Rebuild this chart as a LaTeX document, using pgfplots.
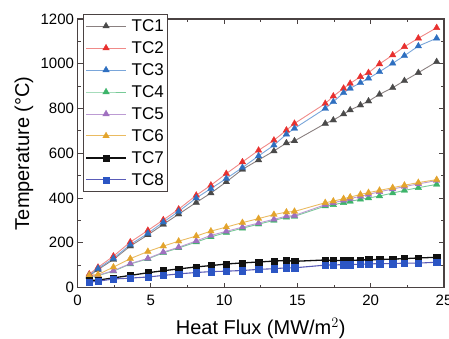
\documentclass[border=0pt]{standalone}
\usepackage{pgfplots}
\pgfplotsset{compat=1.18}
\usepackage{pgfplotstable}
\usepackage{fontspec}
\setmainfont{Liberation Sans}
\definecolor{cA}{HTML}{4A4A4A}
\definecolor{cAl}{HTML}{8A8080}
\definecolor{cB}{HTML}{E8302E}
\definecolor{cBl}{HTML}{F08A88}
\definecolor{cC}{HTML}{2E6FC0}
\definecolor{cCl}{HTML}{7AA6DA}
\definecolor{cD}{HTML}{3DB46A}
\definecolor{cE}{HTML}{A070C0}
\definecolor{cF}{HTML}{E3A42C}
\definecolor{cG}{HTML}{101010}
\definecolor{cH}{HTML}{2B55C4}
\definecolor{cHl}{HTML}{5A5CB8}
\definecolor{axc}{HTML}{4A4242}
\pgfplotstableread{
x tc1 tc2 tc3 tc4 tc5 tc6 tc7 tc8
0.8 52 60 55 48 50 55 31 24
1.4 80 90 85 53 55 58 33 28
2.45 125 140 130 73 75 91 43 38
3.6 185 203 192 105 107 129 54 42
4.8 235 255 242 128 130 161 66 47
5.85 282 302 292 155 158 185 75 54
6.9 328 350 340 177 180 207 83 61
8.1 380 412 400 203 208 230 92 67
9.1 422 457 442 226 233 252 98 71
10.15 472 509 487 246 251 270 105 73
11.25 528 561 536 265 270 290 110 76
12.35 570 613 588 283 288 308 114 81
13.4 610 658 636 300 305 326 118 84
14.25 646 703 685 314 319 337 121 88
14.8 655 733 711 318 322 340 117 88
16.9 733 822 800 364 370 379 123 100
17.45 748 855 830 370 378 386 121 101
18.15 775 890 870 379 390 397 121 102
18.6 793 912 890 385 397 404 121 103
19.3 815 942 915 394 408 416 123 104
19.85 833 960 935 400 416 424 124 105
20.6 863 999 964 409 428 434 125 107
21.5 893 1039 1002 422 440 446 127 107
22.3 924 1076 1036 434 451 457 129 109
23.25 960 1114 1079 446 463 469 132 109
24.5 1009 1161 1114 461 478 482 135 113
}\datatable
\begin{document}
\begin{tikzpicture}
\useasboundingbox (0,0) rectangle (449pt,338pt);
\begin{axis}[
  at={(77.5pt,50.5pt)}, anchor=south west,
  scale only axis, width=366.5pt, height=268.5pt,
  xmin=0, xmax=25, ymin=0, ymax=1200,
  xtick={0,5,...,25}, ytick={0,200,...,1200},
  minor x tick num=1, minor y tick num=1,
  tick align=inside,
  major tick length=5pt, minor tick length=3pt,
  axis line style={axc, line width=1.3pt},
  every tick/.style={axc, line width=1pt},
  tick label style={font=\fontsize{15}{17}\selectfont},
  xticklabel style={yshift=-4pt},
  /pgf/number format/assume math mode=true,
  /pgf/number format/1000 sep={},
  xlabel={Heat Flux (MW/m$^{2}$)},
  ylabel={Temperature (\textdegree C)},
  label style={font=\fontsize{20}{24}\selectfont},
  xlabel style={at={(axis description cs:0.5,-0.176)}, anchor=base},
  ylabel style={at={(axis description cs:-0.132,0.5)}, anchor=base, rotate=0},
  legend style={at={(axis description cs:0.015,1.0186)}, anchor=north west,
    draw=axc, line width=0.8pt, fill=white, font=\fontsize{17}{19}\selectfont,
    row sep=4.6pt, inner xsep=2pt, inner ysep=3pt,
    /tikz/every odd column/.append style={column sep=3pt}},
  legend cell align=left,
  legend image code/.code={\draw[mark repeat=2,mark phase=2,#1] plot coordinates {(0pt,0pt) (20pt,0pt) (40pt,0pt)};},
]
\addplot[cAl, line width=0.9pt, mark=triangle*, mark size=3.8pt, mark options={fill=cA, draw=cA, line width=0.3pt}] table[x=x,y=tc1] {\datatable};
\addlegendentry{TC1}
\addplot[cBl, line width=0.9pt, mark=triangle*, mark size=3.8pt, mark options={fill=cB, draw=cB, line width=0.3pt}] table[x=x,y=tc2] {\datatable};
\addlegendentry{TC2}
\addplot[cCl, line width=0.9pt, mark=triangle*, mark size=3.8pt, mark options={fill=cC, draw=cC, line width=0.3pt}] table[x=x,y=tc3] {\datatable};
\addlegendentry{TC3}
\addplot[cD!70, line width=0.9pt, mark=triangle*, mark size=3.8pt, mark options={fill=cD, draw=cD, line width=0.3pt}] table[x=x,y=tc4] {\datatable};
\addlegendentry{TC4}
\addplot[cE!70, line width=0.9pt, mark=triangle*, mark size=3.8pt, mark options={fill=cE, draw=cE, line width=0.3pt}] table[x=x,y=tc5] {\datatable};
\addlegendentry{TC5}
\addplot[cF!75, line width=0.9pt, mark=triangle*, mark size=3.8pt, mark options={fill=cF, draw=cF, line width=0.3pt}] table[x=x,y=tc6] {\datatable};
\addlegendentry{TC6}
\addplot[cG, line width=1.3pt, mark=square*, mark size=3.2pt, mark options={fill=cG, draw=cG, line width=0.3pt}] table[x=x,y=tc7] {\datatable};
\addlegendentry{TC7}
\addplot[cHl, line width=1.1pt, mark=square*, mark size=3.2pt, mark options={fill=cH, draw=cH, line width=0.3pt}] table[x=x,y=tc8] {\datatable};
\addlegendentry{TC8}
\end{axis}
\end{tikzpicture}
\end{document}
